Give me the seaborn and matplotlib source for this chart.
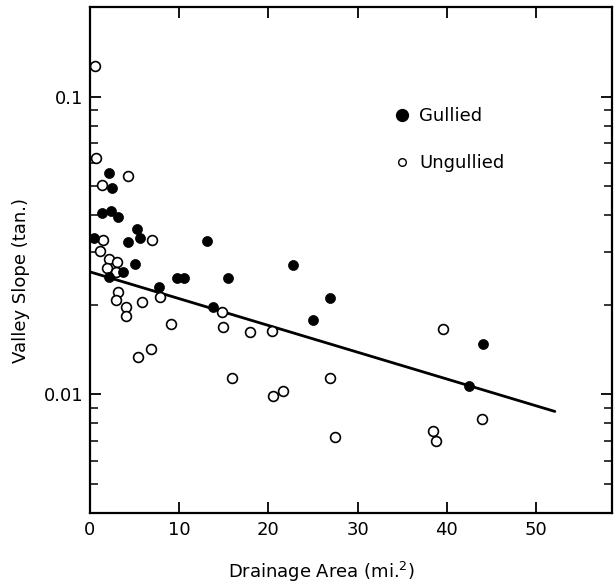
import numpy as np
import pandas as pd
import matplotlib
matplotlib.use('Agg')
import matplotlib.pyplot as plt
import seaborn as sns
from matplotlib.lines import Line2D
from matplotlib.ticker import FixedLocator, NullFormatter

# drainage area (mi^2) and valley slope (tan.)
gullied_area = [0.45, 2.13, 2.47, 1.35, 2.35, 3.14, 5.27, 5.61, 4.26, 5.04, 3.70, 2.13,
                9.75, 10.54, 7.74, 13.12, 15.47, 13.79, 22.76, 25.0, 26.9, 44.06, 42.49]
gullied_slope = [0.0335, 0.0555, 0.0494, 0.0407, 0.0413, 0.0394, 0.0359, 0.0335, 0.0325,
                 0.0274, 0.0258, 0.0248, 0.0246, 0.0246, 0.0229, 0.0328, 0.0246, 0.0196,
                 0.0272, 0.0178, 0.0210, 0.0148, 0.0107]

ungullied_area = [0.56, 0.67, 4.26, 1.35, 1.46, 6.95, 1.12, 2.13, 3.03, 1.91, 2.91, 3.14,
                  2.91, 4.04, 4.04, 5.83, 7.85, 9.08, 5.38, 6.84, 14.8, 14.91, 17.94, 20.4,
                  15.92, 20.52, 21.64, 26.9, 27.47, 39.57, 43.95, 38.45, 38.79]
ungullied_slope = [0.127, 0.0623, 0.0542, 0.0505, 0.0330, 0.0330, 0.0303, 0.0285, 0.0278,
                   0.0266, 0.0258, 0.0220, 0.0207, 0.0196, 0.0183, 0.0204, 0.0212, 0.0172,
                   0.0134, 0.0142, 0.0189, 0.0168, 0.0162, 0.0163, 0.0114, 0.00985, 0.0103,
                   0.0114, 0.00722, 0.0166, 0.00824, 0.00756, 0.00700]

# fitted trend line end points
fit_area = [0, 52.1]
fit_slope = [0.0258, 0.00877]

x_ticks = [0, 10, 20, 30, 40, 50]
y_major = [0.01, 0.1]
y_major_labels = ['0.01', '0.1']
y_minor = [0.005, 0.006, 0.007, 0.008, 0.009,
           0.02, 0.03, 0.04, 0.05, 0.06, 0.07, 0.08, 0.09]

df = pd.concat([
    pd.DataFrame({'area': gullied_area, 'slope': gullied_slope, 'group': 'Gullied'}),
    pd.DataFrame({'area': ungullied_area, 'slope': ungullied_slope, 'group': 'Ungullied'}),
], ignore_index=True)

sns.set_style('ticks')
plt.rcParams['font.family'] = ['DejaVu Sans']
plt.rcParams['text.color'] = 'black'
plt.rcParams['axes.labelcolor'] = 'black'
plt.rcParams['xtick.color'] = 'black'
plt.rcParams['ytick.color'] = 'black'
plt.rcParams['axes.edgecolor'] = 'black'

fig = plt.figure(figsize=(6.15, 5.88), dpi=100)
ax = fig.add_axes([0.1463, 0.1276, 0.8487, 0.8605])

sns.lineplot(x=fit_area, y=fit_slope, color='black', lw=2.0, ax=ax)
sns.scatterplot(data=df[df.group == 'Ungullied'], x='area', y='slope', ax=ax,
                marker='o', s=50, facecolor='white', edgecolor='black', linewidth=1.2,
                zorder=3, legend=False)
sns.scatterplot(data=df[df.group == 'Gullied'], x='area', y='slope', ax=ax,
                marker='o', s=52, color='black', edgecolor='black', linewidth=0.5,
                zorder=4, legend=False)

ax.set_yscale('log')
ax.set_xlim(0, 58.5)
ax.set_ylim(0.004, 0.2)

ax.set_xticks(x_ticks)
ax.set_xticklabels([str(t) for t in x_ticks])
ax.yaxis.set_major_locator(FixedLocator(y_major))
ax.set_yticklabels(y_major_labels)
ax.yaxis.set_minor_locator(FixedLocator(y_minor))
ax.yaxis.set_minor_formatter(NullFormatter())

ax.tick_params(axis='both', which='major', direction='in', length=8, width=1.3,
               labelsize=13, pad=6, top=True, right=True)
ax.tick_params(axis='y', which='minor', direction='in', length=6, width=1.1,
               left=True, right=True)
ax.tick_params(axis='y', which='major', pad=5)

for sp in ax.spines.values():
    sp.set_linewidth(1.6)
    sp.set_visible(True)

ax.set_xlabel('Drainage Area (mi.$^{2}$)', fontsize=13)
ax.set_ylabel('Valley Slope (tan.)', fontsize=13)
ax.xaxis.set_label_coords(0.444, -0.092)
ax.yaxis.set_label_coords(-0.115, 0.46)

handles = [
    Line2D([], [], marker='o', ls='', color='black', markersize=8.5),
    Line2D([], [], marker='o', ls='', markerfacecolor='white', markeredgecolor='black',
           markeredgewidth=1.0, markersize=5.5),
]
ax.legend(handles, ['Gullied', 'Ungullied'], loc='upper left',
          bbox_to_anchor=(0.563, 0.82), frameon=False, fontsize=13,
          handlelength=1.0, handletextpad=0.45, labelspacing=1.6, borderpad=0)

plt.savefig('out.png', dpi=100)
plt.close()
